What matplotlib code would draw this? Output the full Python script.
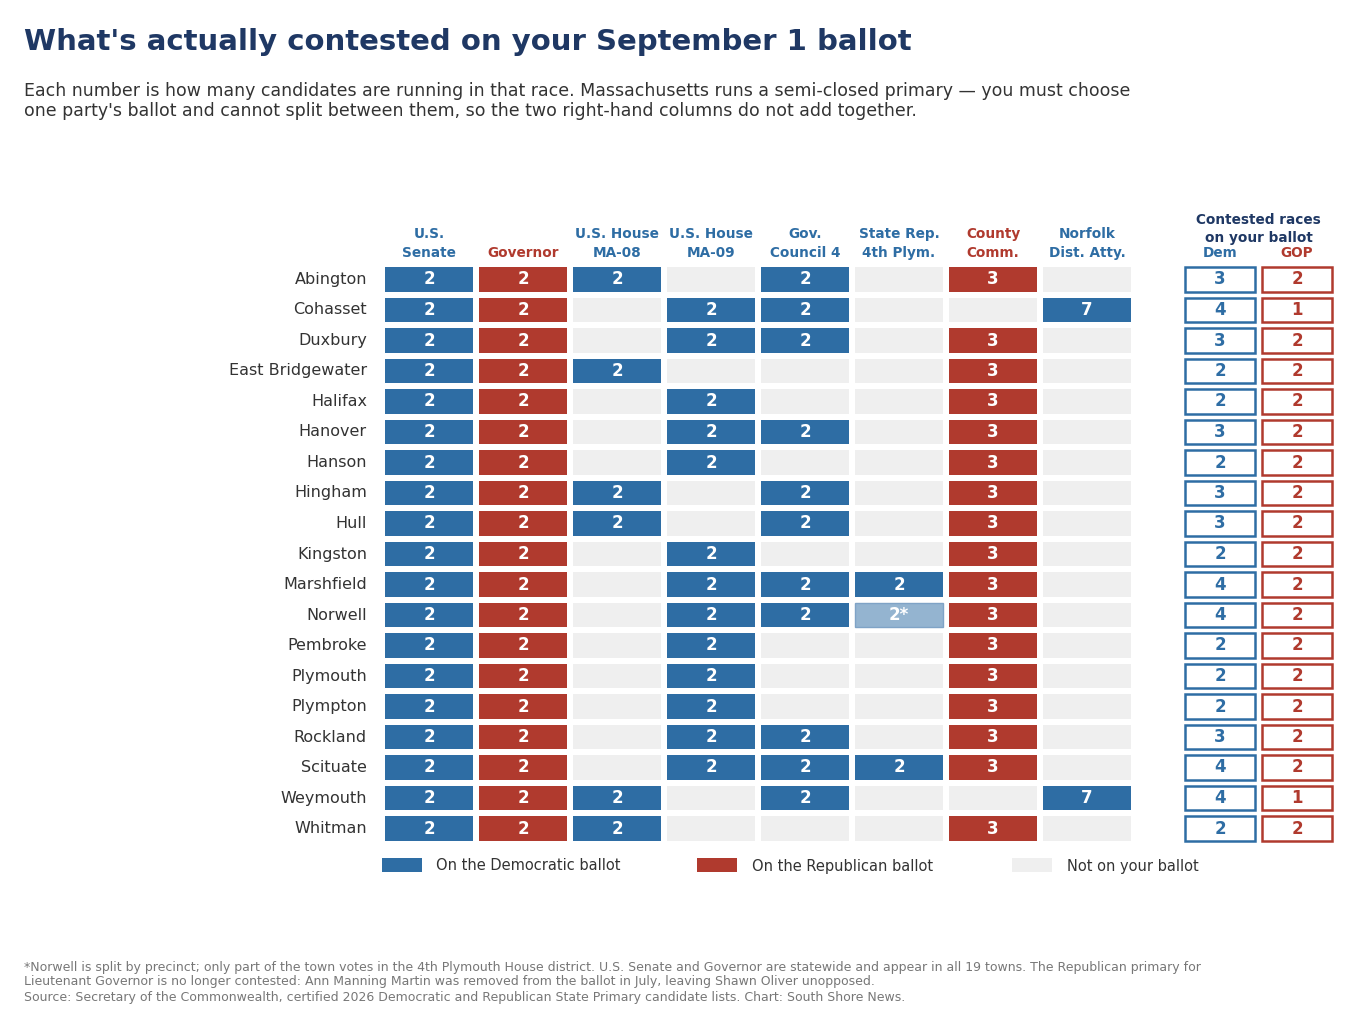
import matplotlib
matplotlib.use("Agg")
import matplotlib.pyplot as plt
from matplotlib.patches import Rectangle

BLUE = "#2e6da4"
RED = "#b03a2e"
GREY = "#efefef"
LIGHT_BLUE = "#94b4d0"
NAVY = "#1f3864"
TEXT = "#333333"

towns = ["Abington", "Cohasset", "Duxbury", "East Bridgewater", "Halifax", "Hanover",
         "Hanson", "Hingham", "Hull", "Kingston", "Marshfield", "Norwell", "Pembroke",
         "Plymouth", "Plympton", "Rockland", "Scituate", "Weymouth", "Whitman"]

races = [("U.S.", "Senate"), ("", "Governor"), ("U.S. House", "MA-08"),
         ("U.S. House", "MA-09"), ("Gov.", "Council 4"), ("State Rep.", "4th Plym."),
         ("County", "Comm."), ("Norfolk", "Dist. Atty.")]
race_party = ["D", "R", "D", "D", "D", "D", "R", "D"]

# candidates per race, "" = not on ballot, "2*" = partial (Norwell)
senate      = ["2"] * 19
governor    = ["2"] * 19
house_ma08  = ["2", "", "", "2", "", "", "", "2", "2", "", "", "", "", "", "", "", "", "2", "2"]
house_ma09  = ["", "2", "2", "", "2", "2", "2", "", "", "2", "2", "2", "2", "2", "2", "2", "2", "", ""]
gov_council = ["2", "2", "2", "", "", "2", "", "2", "2", "", "2", "2", "", "", "", "2", "2", "2", ""]
state_rep   = ["", "", "", "", "", "", "", "", "", "", "2", "2*", "", "", "", "", "2", "", ""]
county_comm = ["3", "", "3", "3", "3", "3", "3", "3", "3", "3", "3", "3", "3", "3", "3", "3", "3", "", "3"]
norfolk_da  = ["", "7", "", "", "", "", "", "", "", "", "", "", "", "", "", "", "", "7", ""]

dem_total = [3, 4, 3, 2, 2, 3, 2, 3, 3, 2, 4, 4, 2, 2, 2, 3, 4, 4, 2]
gop_total = [2, 1, 2, 2, 2, 2, 2, 2, 2, 2, 2, 2, 2, 2, 2, 2, 2, 1, 2]

columns = [senate, governor, house_ma08, house_ma09, gov_council, state_rep,
           county_comm, norfolk_da]

W, H = 1360, 1019
fig = plt.figure(figsize=(W / 100, H / 100), dpi=100)
fig.patch.set_facecolor("white")

# axes: column i centred at 429 + 94 i px, row j centred at 279.5 + 30.5 j px
x0, x1 = -0.5, 9.7
px_l, px_r = 429 + 94 * x0, 429 + 94 * x1
py_t, py_b = 279.5 - 0.5 * 30.5, 279.5 + 18.5 * 30.5
ax = fig.add_axes([px_l / W, 1 - py_b / H, (px_r - px_l) / W, (py_b - py_t) / H])
ax.set_xlim(x0, x1)
ax.set_ylim(18.5, -0.5)
ax.axis("off")

cw, ch = 0.94, 0.79
for i, col in enumerate(columns):
    base = BLUE if race_party[i] == "D" else RED
    for j, v in enumerate(col):
        if v == "":
            fc, ec = GREY, "none"
        elif v.endswith("*"):
            fc, ec = LIGHT_BLUE, "#7fa3c6"
        else:
            fc, ec = base, "none"
        ax.add_patch(Rectangle((i - cw / 2, j - ch / 2), cw, ch, facecolor=fc,
                               edgecolor=ec, lw=1))
        if v:
            ax.text(i, j, v, ha="center", va="center", color="white",
                    fontsize=12, fontweight="bold")

# totals
dem_x, gop_x = 8.415, 9.234
bw = 0.74
for j in range(len(towns)):
    for xc, val, c in [(dem_x, dem_total[j], BLUE), (gop_x, gop_total[j], RED)]:
        ax.add_patch(Rectangle((xc - bw / 2, j - ch / 2), bw, ch, facecolor="white",
                               edgecolor=c, lw=1.8))
        ax.text(xc, j, str(val), ha="center", va="center", color=c,
                fontsize=12, fontweight="bold")

# row labels
for j, t in enumerate(towns):
    ax.text(-0.66, j, t, ha="right", va="center", color=TEXT, fontsize=11.5,
            clip_on=False)

# column headers
for i, (l1, l2) in enumerate(races):
    c = BLUE if race_party[i] == "D" else RED
    ax.text(i, -1.49, l1, ha="center", va="center", color=c, fontsize=9.8,
            fontweight="bold", clip_on=False)
    ax.text(i, -0.87, l2, ha="center", va="center", color=c, fontsize=9.8,
            fontweight="bold", clip_on=False)

mid = (dem_x + gop_x) / 2
ax.text(mid, -1.95, "Contested races", ha="center", va="center", color=NAVY,
        fontsize=9.8, fontweight="bold", clip_on=False)
ax.text(mid, -1.36, "on your ballot", ha="center", va="center", color=NAVY,
        fontsize=9.8, fontweight="bold", clip_on=False)
ax.text(dem_x, -0.87, "Dem", ha="center", va="center", color=BLUE,
        fontsize=9.8, fontweight="bold", clip_on=False)
ax.text(gop_x, -0.87, "GOP", ha="center", va="center", color=RED,
        fontsize=9.8, fontweight="bold", clip_on=False)

# title / subtitle
fig.text(24 / W, 1 - 42 / H, "What's actually contested on your September 1 ballot",
         ha="left", va="center", fontsize=21, fontweight="bold", color=NAVY)
fig.text(24 / W, 1 - 101 / H,
         "Each number is how many candidates are running in that race. Massachusetts runs a "
         "semi-closed primary — you must choose\none party's ballot and cannot split between "
         "them, so the two right-hand columns do not add together.",
         ha="left", va="center", fontsize=12.5, color=TEXT, linespacing=1.15)

# legend
legend_items = [("On the Democratic ballot", BLUE, 382, 436),
                ("On the Republican ballot", RED, 697, 752),
                ("Not on your ballot", GREY, 1012, 1067)]
for label, c, px, tx in legend_items:
    fig.patches.append(Rectangle((px / W, 1 - 872 / H), 40 / W, 14 / H, facecolor=c,
                                 edgecolor="none", transform=fig.transFigure))
    fig.text(tx / W, 1 - 866 / H, label, ha="left", va="center", fontsize=10.5,
             color=TEXT)

# footnote
fig.text(24 / W, 1 - 982 / H,
         "*Norwell is split by precinct; only part of the town votes in the 4th Plymouth House "
         "district. U.S. Senate and Governor are statewide and appear in all 19 towns. The "
         "Republican primary for\nLieutenant Governor is no longer contested: Ann Manning Martin "
         "was removed from the ballot in July, leaving Shawn Oliver unopposed.\nSource: Secretary "
         "of the Commonwealth, certified 2026 Democratic and Republican State Primary candidate "
         "lists. Chart: South Shore News.",
         ha="left", va="center", fontsize=9, color="#777777", linespacing=1.2)

fig.savefig("out.png", dpi=100, facecolor="white")
